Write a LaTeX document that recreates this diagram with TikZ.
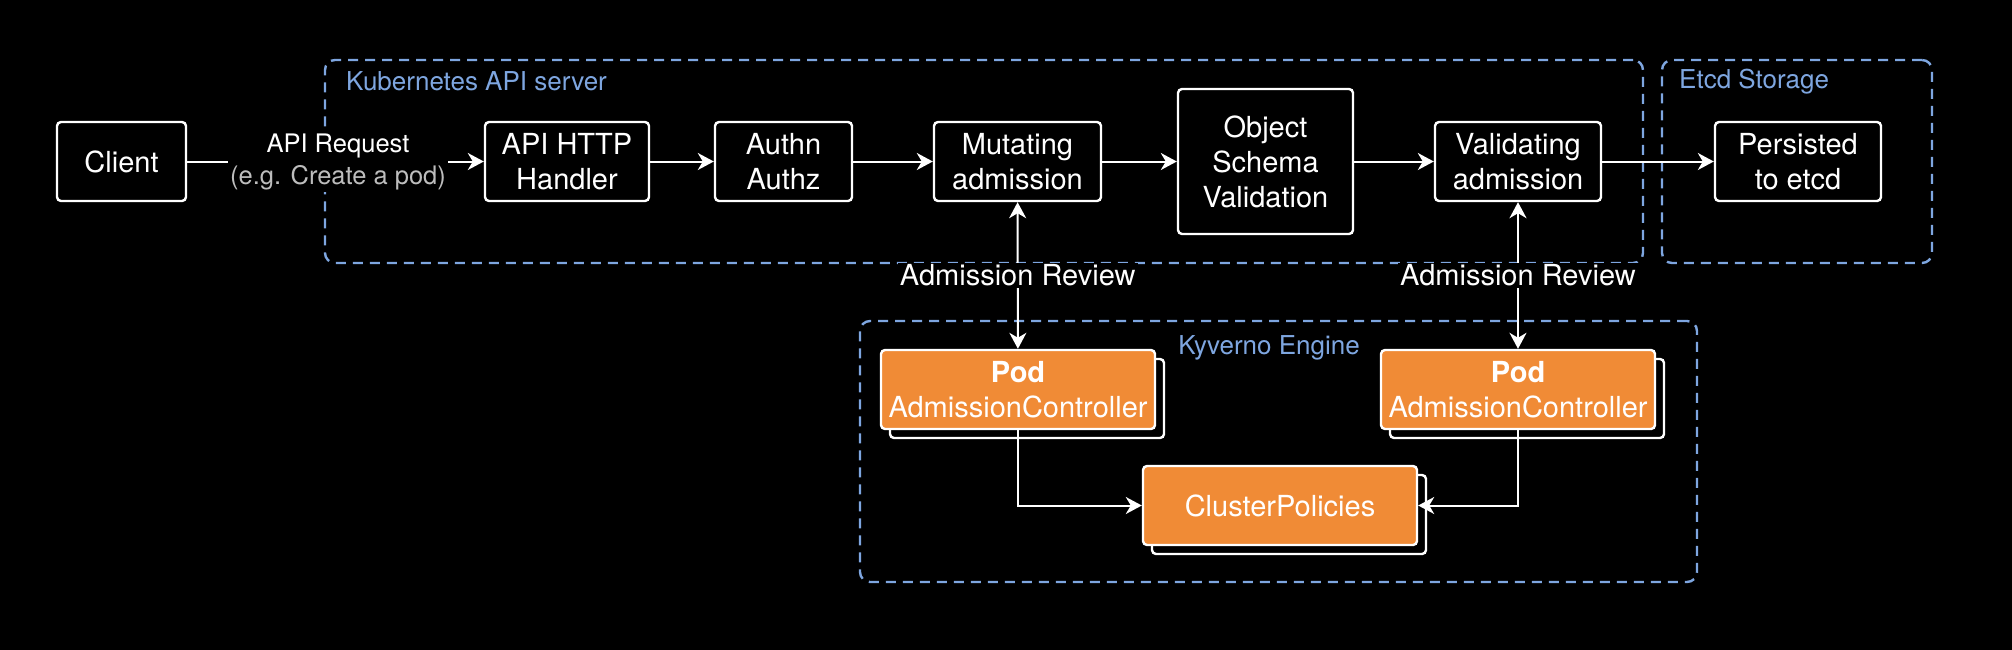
\documentclass[tikz,border=0pt]{standalone}
\usepackage{fontspec}
\setmainfont{TeX Gyre Heros}
\usetikzlibrary{arrows.meta,shadows}
\definecolor{dashblue}{HTML}{7EA6E0}
\definecolor{korange}{HTML}{F08B36}
\definecolor{lgray}{HTML}{BDBDBD}
\begin{document}
\begin{tikzpicture}[x=1pt,y=-1pt,
  box/.style={draw=white, line width=2.4pt, fill=black, rounded corners=4pt, text=white, align=center, font=\fontsize{29}{35}\selectfont, inner sep=0pt},
  obox/.style={box, fill=korange, copy shadow={shadow xshift=9pt, shadow yshift=-9pt, fill=black, draw=white}},
  grp/.style={draw=dashblue, line width=2.4pt, dash pattern=on 10pt off 7pt, rounded corners=10pt, inner sep=0pt},
  grplabel/.style={text=dashblue, font=\fontsize{26}{31}\selectfont, inner sep=0pt},
  conn/.style={draw=white, line width=2pt},
  arr/.style={conn, -{Stealth[length=16pt,width=17pt,inset=5pt]}},
  darr/.style={conn, {Stealth[length=16pt,width=17pt,inset=5pt]}-{Stealth[length=16pt,width=17pt,inset=5pt]}},
  elabel/.style={fill=black, text=white, inner sep=2pt, align=center}
]
\fill[black] (0,0) rectangle (2012,650);
\useasboundingbox (0,0) rectangle (2012,650);

% groups
\node[grp, minimum width=1318pt, minimum height=203pt] (k8s) at (984,161.5) {};
\node[grp, minimum width=270pt, minimum height=203pt] (etcdgrp) at (1797,161.5) {};
\node[grp, minimum width=837pt, minimum height=261pt] (kyv) at (1278.5,451.5) {};
\node[grplabel, anchor=west] (k8slbl) at (346,81.6) {Kubernetes API server};
\node[grplabel, anchor=west] (etcdlbl) at (1679,81.7) {Etcd Storage};
\node[grplabel] (kyvlbl) at (1269,348) {Kyverno Engine};

% boxes
\node[box, minimum width=129pt, minimum height=79pt] (client) at (121.5,161.5) {Client};
\node[box, minimum width=164pt, minimum height=79pt] (api) at (567,161.5) {API HTTP\\Handler};
\node[box, minimum width=137pt, minimum height=79pt] (auth) at (783.5,161.5) {Authn\\Authz};
\node[box, minimum width=167pt, minimum height=79pt] (mut) at (1017.5,161.5) {Mutating\\admission};
\node[box, minimum width=175pt, minimum height=145pt] (osv) at (1265.5,161.5) {Object\\Schema\\Validation};
\node[box, minimum width=166pt, minimum height=79pt] (val) at (1518,161.5) {Validating\\admission};
\node[box, minimum width=166pt, minimum height=79pt] (pers) at (1798,161.5) {Persisted\\to etcd};

\node[obox, minimum width=274pt, minimum height=79pt] (podL) at (1018,389.5) {\textbf{Pod}\\AdmissionController};
\node[obox, minimum width=274pt, minimum height=79pt] (podR) at (1518,389.5) {\textbf{Pod}\\AdmissionController};
\node[obox, minimum width=274pt, minimum height=79pt] (cp) at (1280,505.5) {ClusterPolicies};

% connectors
\draw[arr] (client) -- (api);
\node[elabel, font=\fontsize{25.5}{32}\selectfont] (apireq) at (338,161.5) {API Request\\\textcolor{lgray}{(e.g. Create a pod)}};
\draw[arr] (api) -- (auth);
\draw[arr] (auth) -- (mut);
\draw[arr] (mut) -- (osv);
\draw[arr] (osv) -- (val);
\draw[arr] (val) -- (pers);
\draw[darr] (mut) -- node[elabel, font=\fontsize{29}{35}\selectfont] (ar1) {Admission Review} (podL);
\draw[darr] (val) -- node[elabel, font=\fontsize{29}{35}\selectfont] (ar2) {Admission Review} (podR);
\draw[arr] (podL.south) |- (cp.west);
\draw[arr] (podR.south) |- (cp.east);
\end{tikzpicture}
\end{document}
